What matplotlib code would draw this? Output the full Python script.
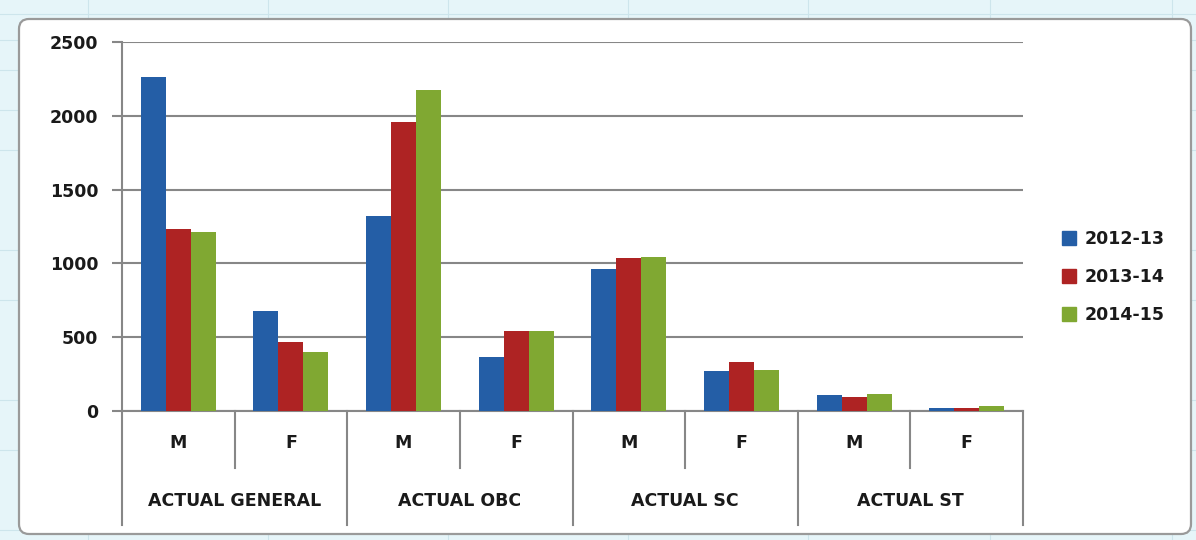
import matplotlib
matplotlib.use("Agg")
import matplotlib.pyplot as plt
import matplotlib.transforms as mtransforms
from matplotlib.patches import FancyBboxPatch, Rectangle
import numpy as np

# ---- data ----
groups = ["ACTUAL GENERAL", "ACTUAL OBC", "ACTUAL SC", "ACTUAL ST"]
sub_labels = ["M", "F"]
series_names = ["2012-13", "2013-14", "2014-15"]
vals_2012_13 = [2260, 680, 1320, 366, 962, 269, 108, 23]
vals_2013_14 = [1233, 467, 1958, 542, 1037, 332, 97, 23]
vals_2014_15 = [1213, 400, 2175, 542, 1043, 280, 118, 37]
y_ticks = [0, 500, 1000, 1500, 2000, 2500]

colors = ["#245EA6", "#AE2323", "#80A832"]
grid_col = "#878787"
FONT = dict(family="DejaVu Sans", weight="bold", size=12.5, color="#1a1a1a")

W, H = 1196, 540
fig = plt.figure(figsize=(W / 100, H / 100), dpi=100)
fig.patch.set_facecolor("#E6F5F9")

# spreadsheet grid in the background margin
for x in [88, 268, 448, 628, 808, 990, 1172]:
    fig.add_artist(plt.Line2D([x / W, x / W], [0, 1], color="#CDE5EC", lw=0.8, zorder=0))
for y in [14, 40, 70, 110, 150, 250, 300, 400, 450, 530]:
    fig.add_artist(plt.Line2D([0, 1], [1 - y / H, 1 - y / H], color="#CDE5EC", lw=0.8, zorder=0))

# chart area rounded box (in inches)
box = FancyBboxPatch((0.19 + 0.1, 0.06 + 0.1), 11.72 - 0.2, 5.15 - 0.2,
                     boxstyle="round,pad=0.1", transform=fig.dpi_scale_trans,
                     facecolor="white", edgecolor="#9A9A9A", lw=1.6, zorder=1)
fig.add_artist(box)

# axes
left, right, top, bottom = 122, 1023, 42, 411
ax = fig.add_axes([left / W, 1 - bottom / H, (right - left) / W, (bottom - top) / H])
ax.set_zorder(2)
ax.patch.set_alpha(0)

n = len(vals_2012_13)
x = np.arange(n)
bw = 1 / 4.5
all_series = [vals_2012_13, vals_2013_14, vals_2014_15]
for i, (vals, c, name) in enumerate(zip(all_series, colors, series_names)):
    ax.bar(x + (i - 1) * bw, vals, width=bw, color=c, edgecolor="none", label=name, zorder=3)

ax.set_xlim(-0.5, n - 0.5)
ax.set_ylim(0, 2500)
ax.set_yticks(y_ticks)
ax.set_yticklabels([str(v) for v in y_ticks], fontdict=FONT)
ax.yaxis.grid(True, color=grid_col, lw=1.5)
ax.set_axisbelow(True)
ax.tick_params(axis="y", length=7, width=1.5, color=grid_col, pad=10)
ax.set_xticks([])
for s in ["top", "right"]:
    ax.spines[s].set_visible(False)
for s in ["left", "bottom"]:
    ax.spines[s].set_color(grid_col)
    ax.spines[s].set_linewidth(1.5)

# hierarchical category axis
trans = mtransforms.blended_transform_factory(ax.transData, ax.transAxes)
axh = bottom - top
y_sub = -(443 - bottom) / axh
y_grp = -(501 - bottom) / axh
y_minor = -(468 - bottom) / axh
y_major = -(525 - bottom) / axh
for k in range(n):
    ax.text(k, y_sub, sub_labels[k % 2], transform=trans, ha="center", va="center", **FONT)
for g, name in enumerate(groups):
    ax.text(2 * g + 0.5, y_grp, name, transform=trans, ha="center", va="center", **FONT)
for b in range(n + 1):
    xb = b - 0.5
    yend = y_major if b % 2 == 0 else y_minor
    ax.plot([xb, xb], [0, yend], transform=trans, color=grid_col, lw=1.5,
            clip_on=False, zorder=3)

# legend
handles = [Rectangle((0, 0), 1, 1, color=c) for c in colors]
leg = fig.legend(handles, series_names, loc="center left",
                 bbox_to_anchor=(1046 / W, 1 - 277 / H), frameon=False,
                 prop=dict(family="DejaVu Sans", weight="bold", size=12.5),
                 handlelength=0.8, handleheight=0.8, handletextpad=0.5,
                 labelspacing=1.15)
for t in leg.get_texts():
    t.set_color("#1a1a1a")

fig.savefig("out.png", dpi=100, facecolor=fig.get_facecolor())
